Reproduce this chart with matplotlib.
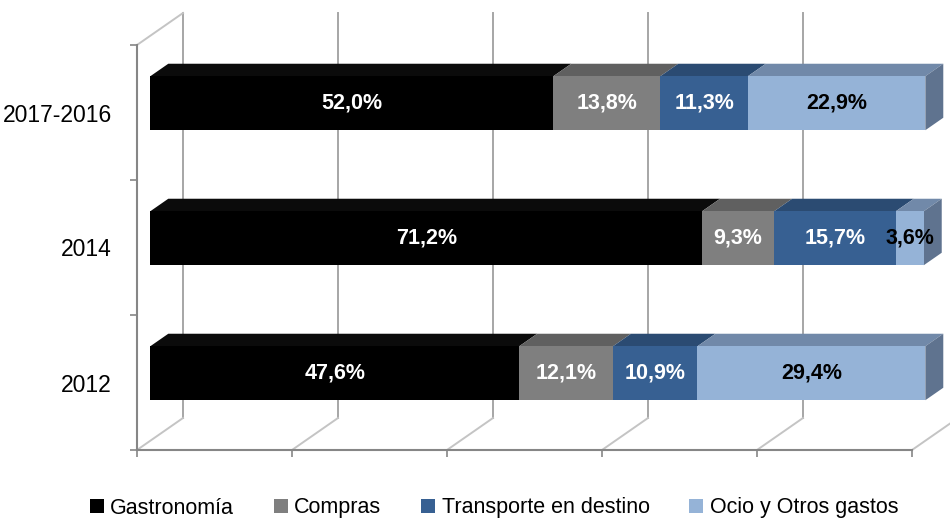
import matplotlib

matplotlib.use("Agg")
import matplotlib.pyplot as plt  # noqa: E402
from matplotlib.patches import Patch, Polygon  # noqa: E402

plt.rcParams["font.family"] = ["Liberation Sans Narrow", "Liberation Sans", "DejaVu Sans"]

# datos (porcentaje del gasto)
categories = ["2012", "2014", "2017-2016"]
series_names = ["Gastronomía", "Compras", "Transporte en destino", "Ocio y Otros gastos"]
gastronomia = [47.6, 71.2, 52.0]
compras = [12.1, 9.3, 13.8]
transporte = [10.9, 15.7, 11.3]
ocio = [29.4, 3.6, 22.9]
grid_ticks = [0, 20, 40, 60, 80, 100]

series = [gastronomia, compras, transporte, ocio]
front_colors = ["#000000", "#7f7f7f", "#376092", "#95b3d7"]
top_colors = ["#0b0b0b", "#606060", "#2b4b72", "#7189a9"]
side_color = "#5f738f"
label_colors = ["white", "white", "white", "black"]

W, H = 950, 518
fig = plt.figure(figsize=(W / 100, H / 100), dpi=100)
ax = fig.add_axes([137 / W, 68 / H, 775 / W, 405 / H])
ax.set_xlim(0, 100)
ax.set_ylim(-0.5, 2.5)

# profundidad del falso 3D (en unidades de datos)
DX = 46 * 100 / 775
DY = 32 * 3 / 405
f1, f2 = 0.29, 0.68
h = 0.40
tdx, tdy = (f2 - f1) * DX, (f2 - f1) * DY

# pared del fondo y suelo
for v in grid_ticks:
    ax.plot([v + DX, v + DX], [-0.5 + DY, 2.5 + DY], color="#a6a6a6", lw=1.4,
            clip_on=False, zorder=1)
    ax.plot([v, v + DX], [-0.5, -0.5 + DY], color="#c4c4c4", lw=1.4,
            clip_on=False, zorder=1)
ax.plot([0, DX], [2.5, 2.5 + DY], color="#c4c4c4", lw=1.4, clip_on=False, zorder=1)

# barras apiladas
for i in range(len(categories)):
    left = 0.0
    yc = i + f1 * DY
    yt, yb = yc + h / 2, yc - h / 2
    for k, vals in enumerate(series):
        v = vals[i]
        x0 = left + f1 * DX
        x1 = x0 + v
        ax.add_patch(Polygon([(x0, yt), (x1, yt), (x1 + tdx, yt + tdy), (x0 + tdx, yt + tdy)],
                             closed=True, facecolor=top_colors[k], edgecolor="none",
                             zorder=3, clip_on=False))
        ax.barh(yc, v, left=x0, height=h, color=front_colors[k], zorder=4, clip_on=False)
        ax.text((x0 + x1) / 2, yc, f"{v:.1f}%".replace(".", ","), ha="center", va="center",
                fontsize=15.5, fontweight="bold", color=label_colors[k], zorder=6)
        left += v
        if k == len(series) - 1:
            ax.add_patch(Polygon([(x1, yb), (x1, yt), (x1 + tdx, yt + tdy), (x1 + tdx, yb + tdy)],
                                 closed=True, facecolor=side_color, edgecolor="none",
                                 zorder=3, clip_on=False))

# ejes
for s in ["top", "right"]:
    ax.spines[s].set_visible(False)
for s in ["left", "bottom"]:
    ax.spines[s].set_color("#868686")
    ax.spines[s].set_linewidth(1.5)
    ax.spines[s].set_zorder(2)
ax.set_xticks(grid_ticks)
ax.set_xticklabels([])
ax.tick_params(axis="x", length=5, width=1.2, color="#868686")
ax.set_yticks(range(len(categories)))
ax.set_yticklabels(categories, fontsize=16.5)
ax.set_yticks([-0.5, 0.5, 1.5, 2.5], minor=True)
ax.tick_params(axis="y", which="major", length=0, pad=18)
ax.tick_params(axis="y", which="minor", length=5, width=1.2, color="#868686")
ax.patch.set_visible(False)

handles = [Patch(facecolor=c, edgecolor="none") for c in front_colors]
fig.legend(handles, series_names, loc="center", bbox_to_anchor=(494 / W, 1 - 508 / H),
           ncol=4, frameon=False, fontsize=15.5, handlelength=0.65, handleheight=0.65,
           handletextpad=0.3, columnspacing=1.85, borderpad=0)

fig.savefig("out.png", dpi=100)
plt.close(fig)
